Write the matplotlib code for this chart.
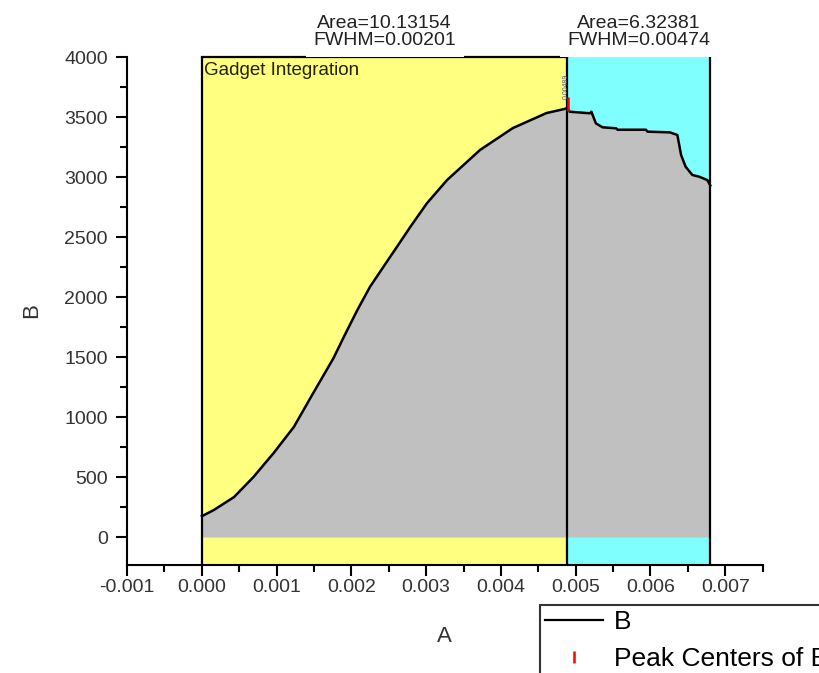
# ------------------------------------------------------------
# Imports
# ------------------------------------------------------------
import matplotlib
matplotlib.use("Agg")
import matplotlib.pyplot as plt
from matplotlib.lines import Line2D

plt.rcParams["font.family"] = ["Liberation Sans", "DejaVu Sans"]

# ------------------------------------------------------------
# Data
# ------------------------------------------------------------
a_vals = [0.0, 0.00003, 0.00016, 0.00043, 0.00069, 0.00096, 0.00123, 0.00149,
          0.00176, 0.00190, 0.00208, 0.00225, 0.00243, 0.00261, 0.00279,
          0.00301, 0.00328, 0.00372, 0.00416, 0.00461, 0.00485, 0.00489,
          0.00492, 0.00519, 0.00521, 0.00527, 0.00536, 0.00554, 0.00556,
          0.00594, 0.00596, 0.00626, 0.00636, 0.00641, 0.00647, 0.00656,
          0.00665, 0.00676, 0.00680]
b_vals = [175, 183, 225, 333, 500, 700, 917, 1200,
          1490, 1669, 1892, 2086, 2253, 2419, 2586,
          2781, 2975, 3225, 3408, 3533, 3567, 3575,
          3544, 3531, 3544, 3447, 3414, 3406, 3394,
          3394, 3378, 3372, 3350, 3183, 3086, 3017,
          3003, 2975, 2930]

# integration windows
win_bounds = [0.0, 0.00489, 0.0068]
win_colors = ["#FFFF80", "#80FFFF"]
win_labels = ["Area=10.13154\nFWHM=0.00201", "Area=6.32381\nFWHM=0.00474"]

peak_x = [0.00490]
peak_y = [3610]
peak_label = "0.00489"

x_ticks = [-0.001, 0.0, 0.001, 0.002, 0.003, 0.004, 0.005, 0.006, 0.007]
y_ticks = [0, 500, 1000, 1500, 2000, 2500, 3000, 3500, 4000]

# ------------------------------------------------------------
# Figure
# ------------------------------------------------------------
fig = plt.figure(figsize=(8.2, 6.73), dpi=100)
ax = fig.add_axes([0.155, 0.1605, 0.775, 0.7548])
ax.set_xlim(-0.001, 0.0075)
ax.set_ylim(-233, 4000)

# background windows
for i, c in enumerate(win_colors):
    ax.axvspan(win_bounds[i], win_bounds[i + 1], color=c, lw=0, zorder=0)

# area under curve
ax.fill_between(a_vals, 0, b_vals, color="#C0C0C0", lw=0, zorder=1)
ax.plot(a_vals, b_vals, color="black", lw=1.8, zorder=3)

# window borders
for xb in win_bounds:
    ax.axvline(xb, color="black", lw=1.6, zorder=4)
ax.plot([win_bounds[0], win_bounds[1]], [4000, 4000], color="black", lw=1.6,
        zorder=4, clip_on=False)

# peak center
ax.plot(peak_x, peak_y, ls="none", marker="|", ms=10, mew=1.8, color="red",
        zorder=5)
ax.text(peak_x[0] - 0.00002, 3650, peak_label, rotation=90, fontsize=5,
        color="#555577", ha="center", va="bottom", zorder=6)

# area labels above windows (white box hides part of the top border)
for i, lab in enumerate(win_labels):
    xc = (win_bounds[i] + win_bounds[i + 1]) / 2
    ax.text(xc, 4065, lab, ha="center", va="bottom", fontsize=14,
            color="#222222", linespacing=1.05,
            bbox=dict(fc="white", ec="none", pad=5.5), zorder=7, clip_on=False)

ax.text(0.00003, 3960, "Gadget Integration", fontsize=13.5, color="#222200",
        ha="left", va="top", zorder=6)

# axes styling
for s in ["top", "right"]:
    ax.spines[s].set_visible(False)
for s in ["left", "bottom"]:
    ax.spines[s].set_linewidth(1.5)

ax.set_xticks(x_ticks)
ax.set_xticklabels([f"{v:.3f}" for v in x_ticks])
ax.set_xticks([v + 0.0005 for v in x_ticks], minor=True)
ax.set_yticks(y_ticks)
ax.set_yticks([v + 250 for v in y_ticks[:-1]], minor=True)
ax.tick_params(which="major", direction="out", length=8, width=1.5,
               labelsize=14, labelcolor="#333333")
ax.tick_params(axis="x", which="major", pad=2)
ax.tick_params(axis="y", which="major", pad=6)
ax.tick_params(which="minor", direction="out", length=5, width=1.5)

ax.set_xlabel("A", fontsize=16, color="#333333", labelpad=22)
ax.set_ylabel("B", fontsize=16, color="#333333", labelpad=16)

# legend hanging off the bottom right
handles = [Line2D([], [], color="black", lw=1.6),
           Line2D([], [], ls="none", marker="|", ms=9, mew=1.8, color="red")]
leg = fig.legend(handles, ["B", "Peak Centers of B"], loc="upper left",
                 bbox_to_anchor=(540 / 820, 1 - 605 / 673), borderaxespad=0,
                 fontsize=19, frameon=True, fancybox=False, handlelength=2.2,
                 handletextpad=0.4, borderpad=0.2, labelspacing=0.5)
leg.get_frame().set_edgecolor("black")
leg.get_frame().set_linewidth(1.5)

plt.savefig("out.png", dpi=100)
